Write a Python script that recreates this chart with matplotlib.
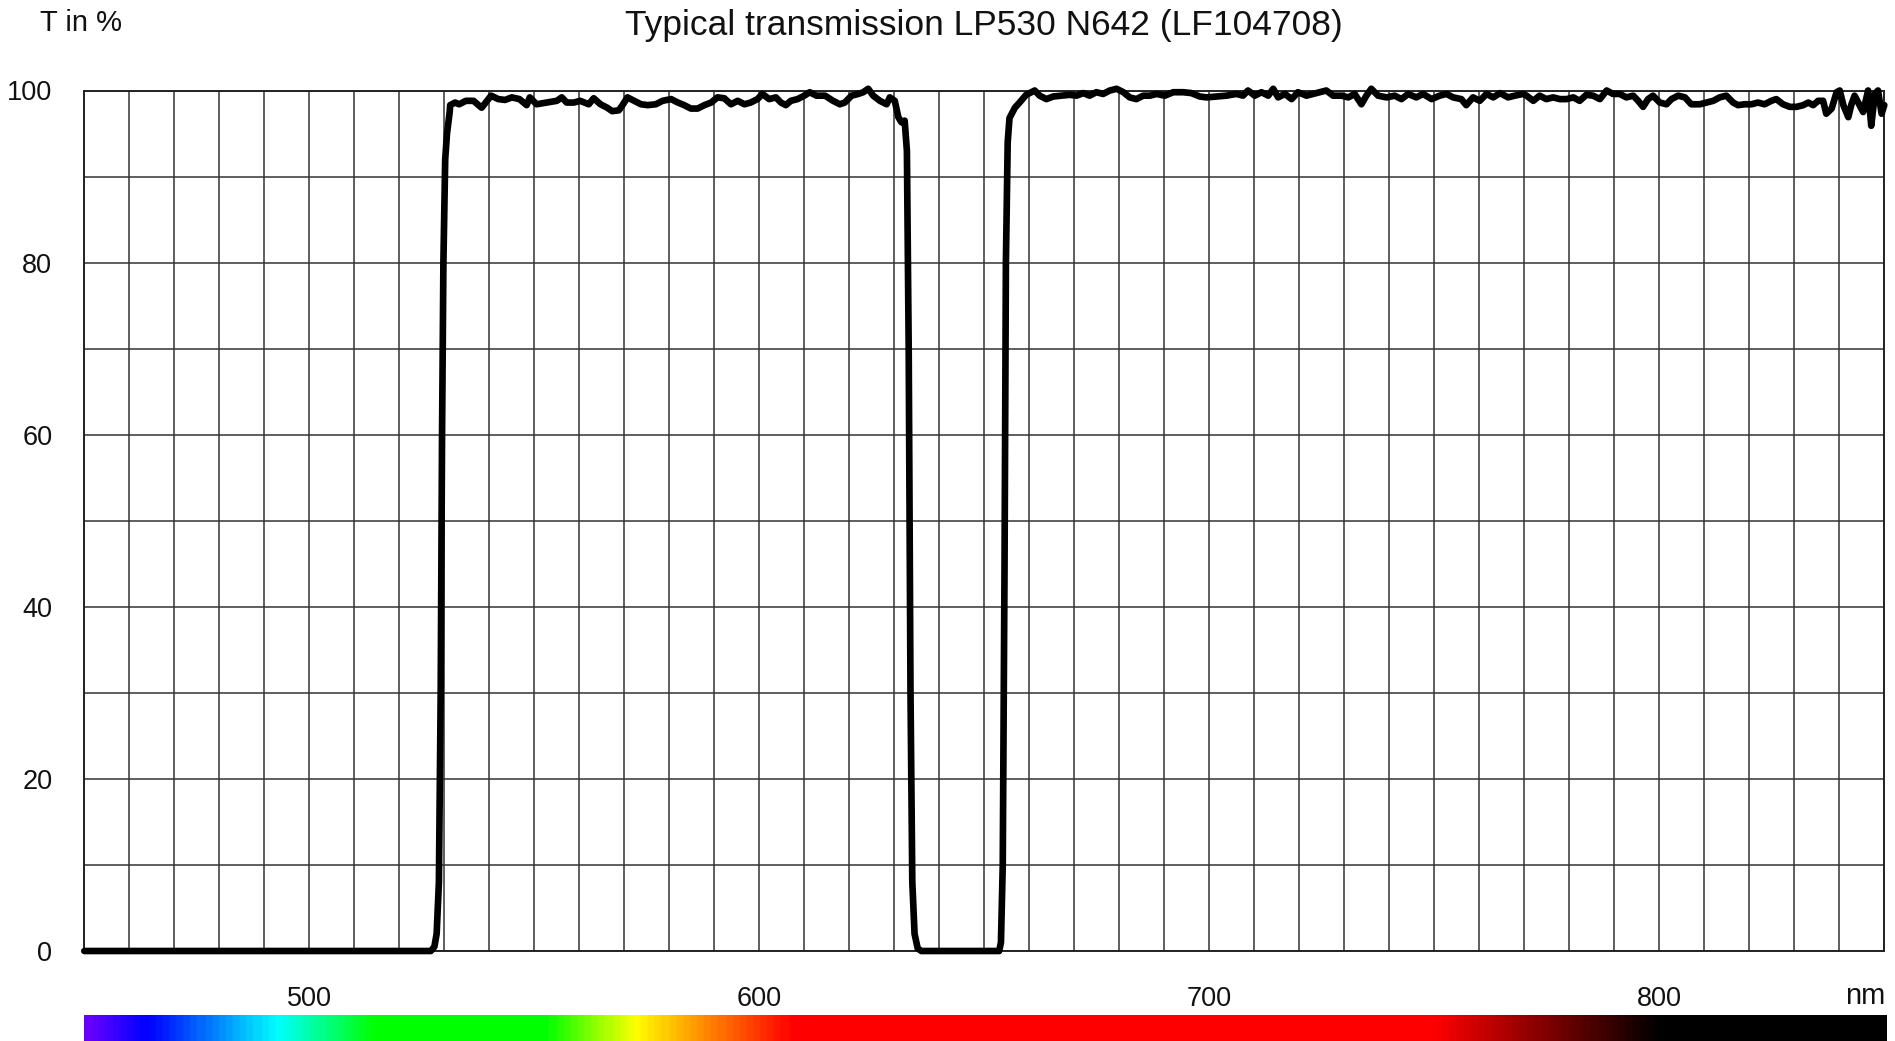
import numpy as np
import matplotlib
matplotlib.use("Agg")
import matplotlib.pyplot as plt
from matplotlib.colors import LinearSegmentedColormap

plt.rcParams['font.family'] = ['Liberation Sans', 'DejaVu Sans']

title = "Typical transmission LP530 N642 (LF104708)"
y_label = "T in %"
x_unit = "nm"

# wavelength (nm) and transmission (%)
wl_block1 = [450.0, 527.0, 527.8, 528.3, 528.8, 529.2, 529.5, 529.8, 530.2, 530.6, 531.2]
t_block1 = [0.0, 0.0, 0.5, 2.0, 8.0, 30.0, 60.0, 80.0, 92.0, 95.0, 97.5]

wl_band1 = [531.3, 532.4, 533.3, 534.8, 536.5, 537.6, 538.3, 539.5, 540.4, 542.0,
            543.5, 545.0, 546.7, 548.3, 549.0, 550.5, 552.8, 555.0, 556.1, 557.2,
            558.8, 560.2, 562.1, 563.2, 564.7, 566.2, 567.3, 568.8, 569.6, 570.7,
            572.2, 573.7, 575.2, 577.0, 578.5, 580.4, 581.9, 583.3, 584.8, 586.3,
            587.8, 589.3, 590.7, 592.2, 593.7, 595.2, 596.7, 598.1, 599.6, 600.7,
            602.2, 603.7, 604.8, 605.9, 607.0, 608.5, 610.0, 611.2, 612.7, 614.6,
            616.4, 617.9, 619.0, 620.5, 622.0, 623.1, 624.2, 625.3, 626.8, 628.3,
            629.0, 630.1, 630.9, 631.6, 632.3]
t_band1 = [98.3, 98.6, 98.4, 98.8, 98.8, 98.3, 98.0, 98.8, 99.4, 99.0,
           98.9, 99.2, 99.0, 98.3, 99.2, 98.4, 98.6, 98.8, 99.2, 98.6,
           98.6, 98.8, 98.4, 99.1, 98.4, 98.0, 97.6, 97.7, 98.3, 99.2,
           98.8, 98.4, 98.3, 98.4, 98.8, 99.0, 98.6, 98.3, 97.9, 97.9,
           98.3, 98.6, 99.2, 99.1, 98.4, 98.8, 98.4, 98.6, 99.0, 99.6,
           99.0, 99.2, 98.6, 98.3, 98.8, 99.0, 99.4, 99.8, 99.4, 99.4,
           98.8, 98.4, 98.6, 99.4, 99.6, 99.8, 100.2, 99.4, 98.8, 98.4,
           99.2, 98.8, 96.9, 96.3, 96.5]

wl_notch = [632.8, 633.2, 633.6, 634.0, 634.5, 635.2, 636.0, 653.3, 653.7, 654.1,
            654.5, 654.8, 655.2, 655.6, 656.1, 656.8, 658.0, 659.3]
t_notch = [93.0, 70.0, 30.0, 8.0, 2.0, 0.3, 0.0, 0.0, 1.0, 10.0,
           45.0, 80.0, 94.0, 96.8, 97.3, 98.0, 98.7, 99.5]

wl_band2 = [660.1, 661.2, 662.3, 663.8, 665.3, 667.1, 669.0, 670.5, 672.0, 673.4,
            674.9, 676.4, 677.9, 679.4, 680.9, 682.3, 683.8, 685.3, 686.8, 688.3,
            690.1, 692.0, 694.2, 696.0, 697.9, 699.4, 701.6, 703.8, 706.0, 707.5,
            708.6, 710.1, 711.6, 713.1, 714.2, 715.3, 716.8, 718.3, 719.7, 721.6,
            723.8, 726.0, 727.5, 729.4, 730.9, 732.3, 733.8, 734.9, 736.0, 737.5,
            739.4, 741.2, 742.7, 744.2, 746.0, 747.5, 749.4, 751.2, 752.7, 754.2,
            756.0, 757.1, 758.6, 760.1, 761.6, 763.1, 764.6, 766.4, 767.9, 769.7]
t_band2 = [99.7, 100.0, 99.4, 99.0, 99.3, 99.4, 99.5, 99.4, 99.7, 99.4,
           99.8, 99.6, 100.0, 100.2, 99.8, 99.2, 99.0, 99.4, 99.4, 99.6,
           99.4, 99.8, 99.8, 99.7, 99.3, 99.2, 99.3, 99.4, 99.6, 99.4,
           100.0, 99.4, 99.8, 99.4, 100.2, 99.2, 99.6, 99.0, 99.8, 99.4,
           99.7, 100.0, 99.4, 99.4, 99.2, 99.6, 98.4, 99.4, 100.2, 99.4,
           99.2, 99.4, 99.0, 99.6, 99.2, 99.6, 99.0, 99.4, 99.6, 99.2,
           99.0, 98.3, 99.2, 98.8, 99.6, 99.2, 99.7, 99.2, 99.4, 99.6]

wl_band3 = [770.5, 772.0, 773.4, 774.9, 776.4, 777.9, 779.4, 780.9, 782.3, 783.8,
            785.3, 786.8, 788.3, 789.7, 791.2, 792.7, 794.2, 795.3, 796.4, 797.5,
            798.6, 800.1, 801.6, 802.7, 804.2, 805.7, 807.1, 809.0, 810.5, 812.0,
            813.4, 814.9, 816.4, 817.5, 819.0, 820.5, 821.9, 823.4, 824.9, 826.0,
            827.5, 829.0, 830.5, 832.0, 833.1, 834.2, 835.3, 836.4, 837.1, 838.3,
            839.4, 840.1, 840.9, 842.0, 842.7, 843.4, 844.2, 845.3, 846.4, 847.1,
            847.9, 848.6, 849.4, 850.0]
t_band3 = [99.4, 98.8, 99.4, 99.0, 99.2, 99.0, 99.0, 99.2, 98.8, 99.5,
           99.4, 99.0, 100.0, 99.6, 99.6, 99.2, 99.4, 98.8, 98.1, 99.0,
           99.4, 98.6, 98.4, 99.0, 99.4, 99.2, 98.4, 98.4, 98.6, 98.8,
           99.2, 99.4, 98.6, 98.3, 98.4, 98.4, 98.6, 98.4, 98.8, 99.0,
           98.4, 98.1, 98.1, 98.3, 98.6, 98.3, 98.8, 98.8, 97.3, 97.9,
           99.8, 100.0, 98.3, 96.9, 98.4, 99.4, 98.6, 97.5, 100.0, 95.9,
           99.6, 100.0, 97.3, 98.3]

x_ticks = [500, 600, 700, 800]
y_ticks = [0, 20, 40, 60, 80, 100]

# spectrum bar colours (wavelength -> colour)
spec_nm = [450, 463, 467, 492, 514, 552, 572, 587, 607, 750, 800, 850]
spec_col = [(0.40, 0.0, 1.0), (0.0, 0.0, 1.0), (0.0, 0.12, 1.0), (0.0, 1.0, 1.0),
            (0.0, 1.0, 0.0), (0.0, 1.0, 0.0), (1.0, 1.0, 0.0), (1.0, 0.55, 0.0),
            (1.0, 0.0, 0.0), (1.0, 0.0, 0.0), (0.0, 0.0, 0.0), (0.0, 0.0, 0.0)]

wl = np.array(wl_block1 + wl_band1 + wl_notch + wl_band2 + wl_band3)
tr = np.array(t_block1 + t_band1 + t_notch + t_band2 + t_band3)

W, H = 1895, 1041
fig = plt.figure(figsize=(W / 100, H / 100), dpi=100)
ax_l, ax_r, ax_t, ax_b = 84.3, 1884.3, 90.5, 951.0
ax = fig.add_axes([ax_l / W, 1 - ax_b / H, (ax_r - ax_l) / W, (ax_b - ax_t) / H])

ax.set_xlim(450, 850)
ax.set_ylim(0, 100)
ax.set_xticks(np.arange(450, 851, 10), minor=True)
ax.set_yticks(np.arange(0, 101, 10), minor=True)
ax.set_xticks(x_ticks)
ax.set_yticks(y_ticks)
ax.grid(True, which='both', color='#333333', linewidth=1.1)
ax.set_axisbelow(True)
ax.tick_params(which='both', length=0)
ax.tick_params(axis='x', labelsize=19.5, pad=25, colors='#111111')
ax.tick_params(axis='y', labelsize=19.5, pad=23, colors='#111111')
for s in ax.spines.values():
    s.set_color('#222222')
    s.set_linewidth(1.4)

ax.plot(wl, tr, color='black', linewidth=4.8, solid_joinstyle='round',
        solid_capstyle='round', clip_on=False, zorder=5)

fig.text(0.5 * (ax_l + ax_r) / W, 1 - 26 / H, title, ha='center', va='center',
         fontsize=25.5, color='#111111')
fig.text(40 / W, 1 - 23 / H, y_label, ha='left', va='center', fontsize=21,
         color='#111111')
fig.text(1885 / W, 1 - 996 / H, x_unit, ha='right', va='center', fontsize=21,
         color='#111111')

# spectrum colour bar
cmap = LinearSegmentedColormap.from_list(
    'spec', [((n - spec_nm[0]) / (spec_nm[-1] - spec_nm[0]), c) for n, c in zip(spec_nm, spec_col)])
cax = fig.add_axes([ax_l / W, 0, (1887 - ax_l) / W, 26 / H])
cax.imshow(np.linspace(450, 850, 800)[None, :], aspect='auto', cmap=cmap,
           extent=[450, 850, 0, 1], vmin=450, vmax=850)
cax.set_axis_off()

fig.savefig('out.png', dpi=100)
